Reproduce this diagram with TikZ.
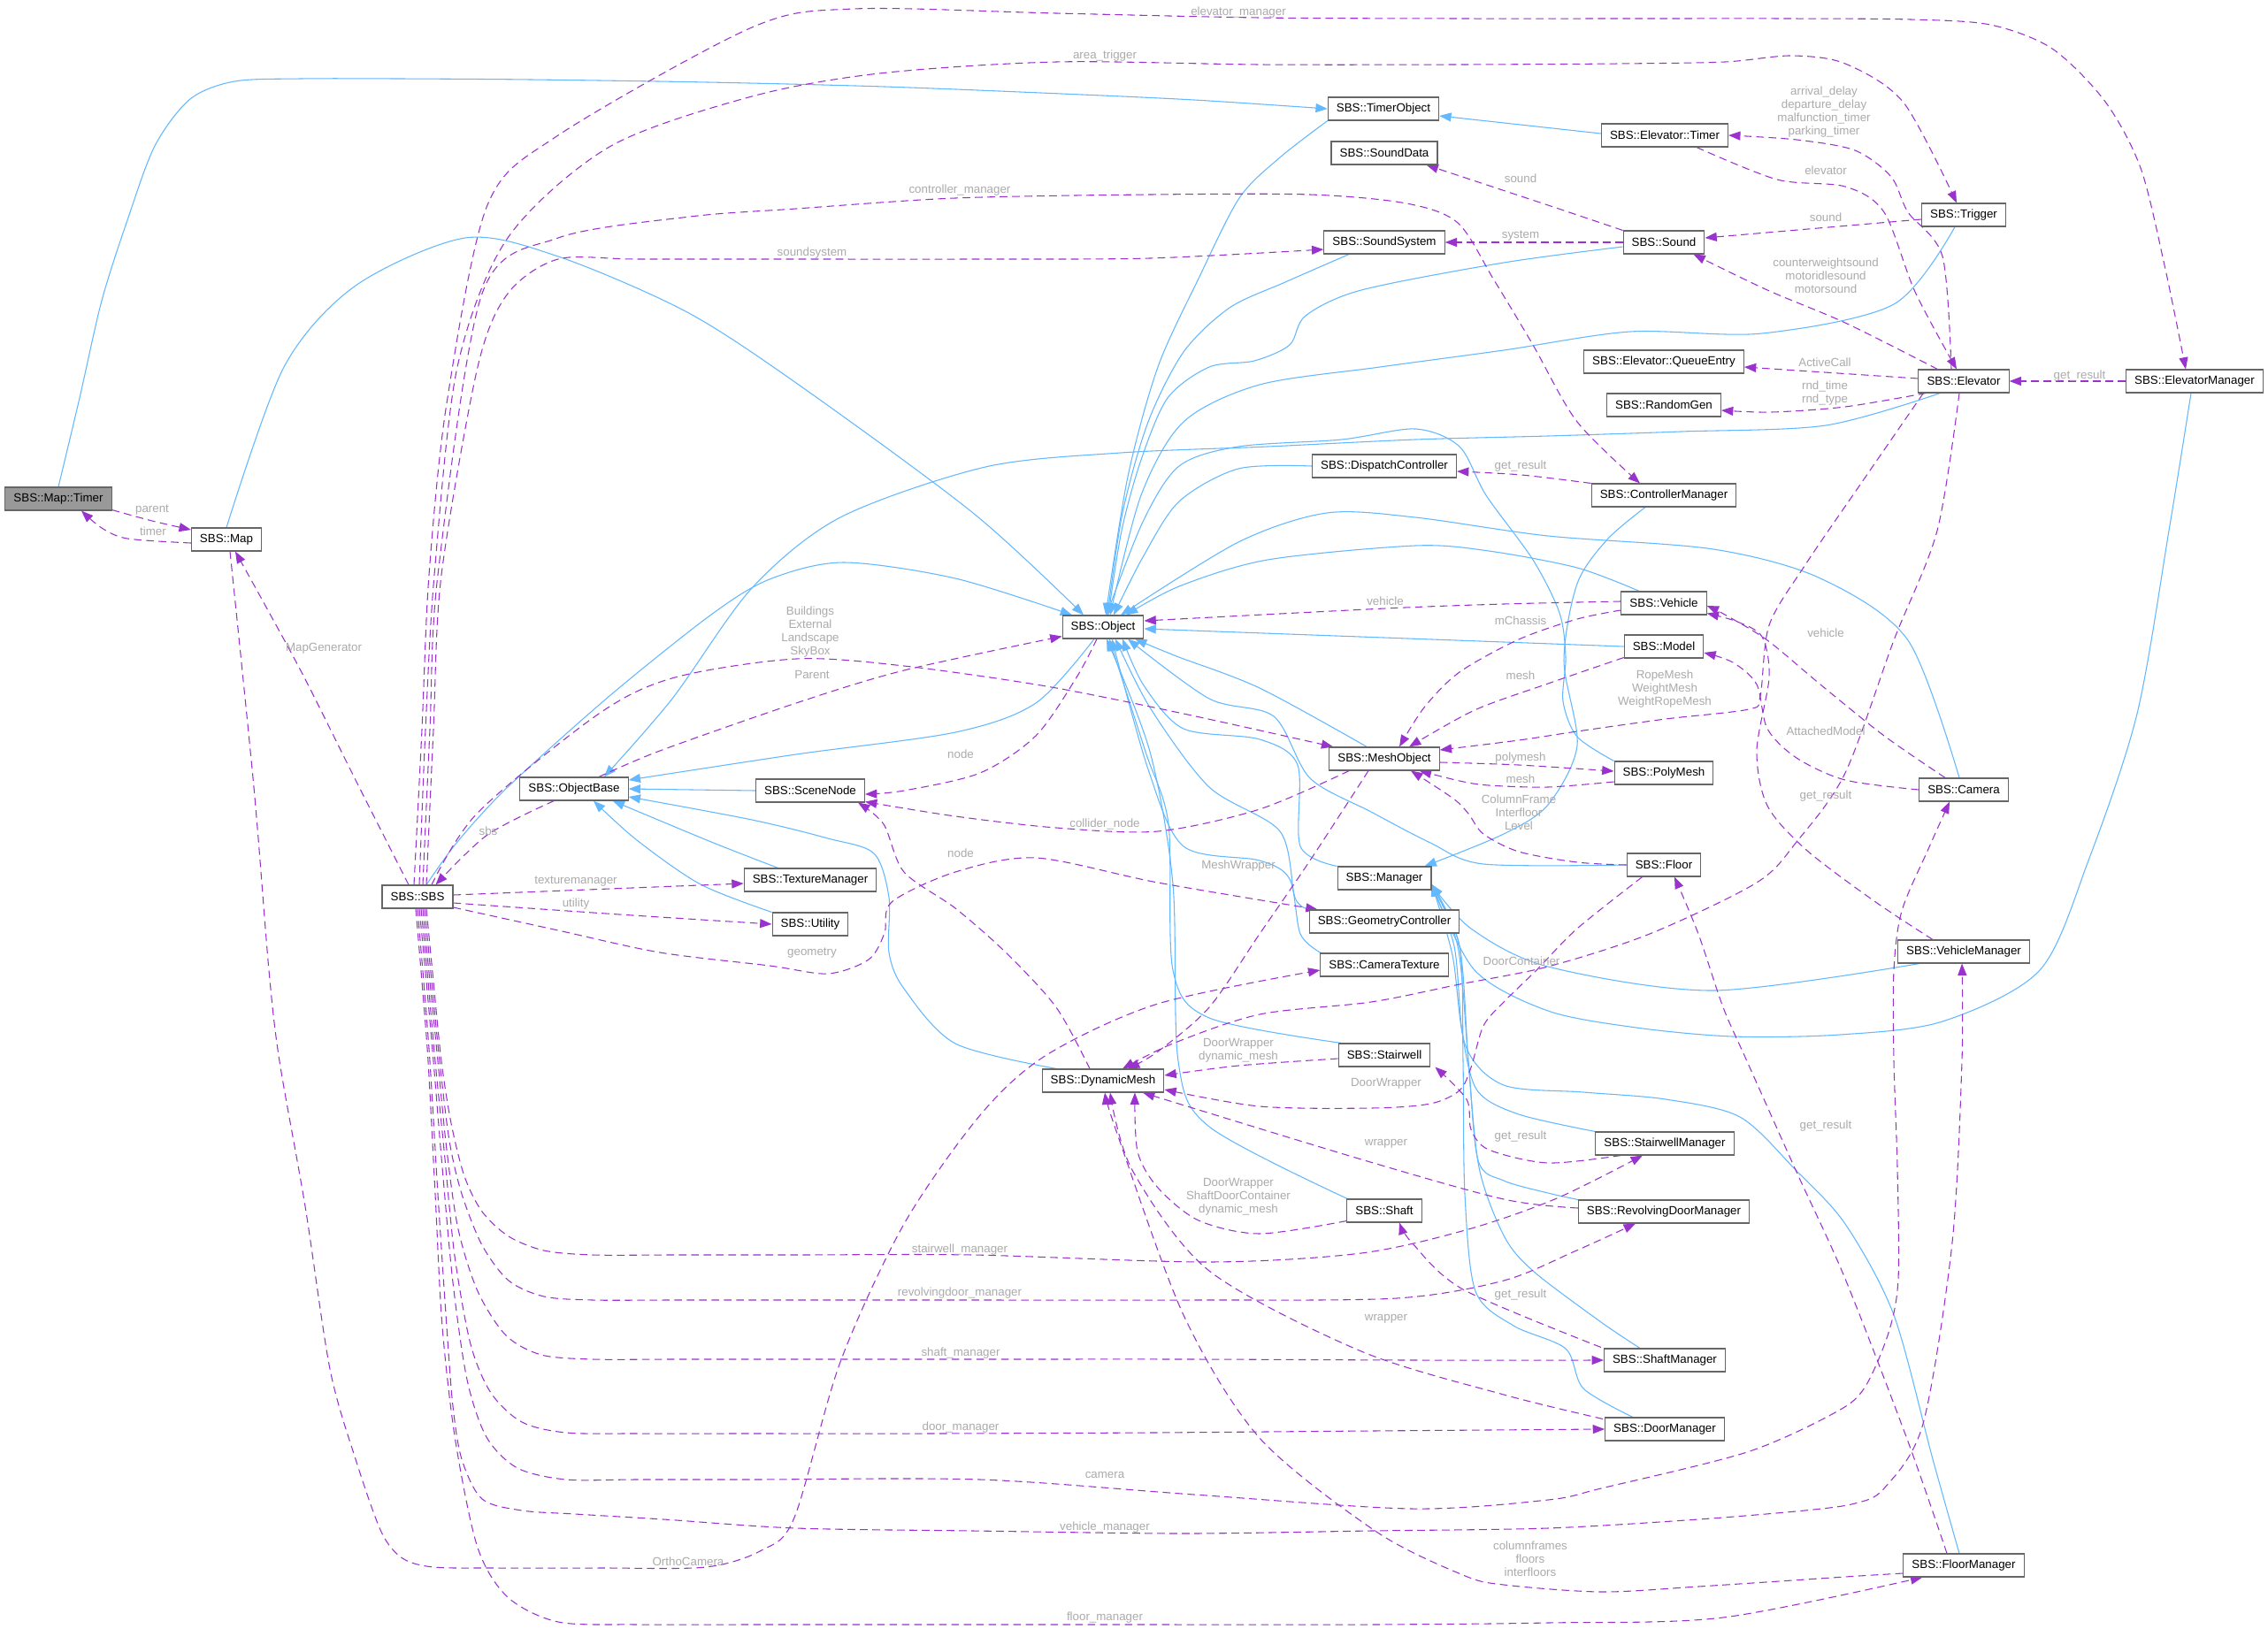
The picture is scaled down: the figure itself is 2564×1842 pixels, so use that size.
\documentclass[tikz,border=0pt]{standalone}
\usepackage{fontspec}
\setmainfont{Liberation Sans}
\usetikzlibrary{arrows.meta}
\definecolor{inhcol}{HTML}{63B8FF}
\definecolor{usecol}{HTML}{9A32CD}
\definecolor{labcol}{HTML}{ABABAB}
\definecolor{bordcol}{HTML}{666666}
\definecolor{focusfill}{HTML}{999999}
\pgfdeclarelayer{background}
\pgfsetlayers{background,main}
\begin{document}
\begin{tikzpicture}[x=0.75pt,y=-0.75pt,
  cls/.style={draw=bordcol,line width=0.8pt,fill=white,font=\fontsize{10}{12}\selectfont,inner xsep=7.2pt,inner ysep=0pt,minimum height=19.5pt},
  inh/.style={draw=inhcol,line width=0.8pt,-{Triangle[length=10pt,width=7.5pt]}},
  use/.style={draw=usecol,line width=0.8pt,dash pattern=on 6.5pt off 4pt,-{Triangle[length=10pt,width=7.5pt]}},
  elab/.style={text=labcol,font=\fontsize{10}{11.25}\selectfont,align=center,inner sep=0pt}]
\useasboundingbox (0,0) rectangle (2564,1842);

% ---------- nodes ----------
\node[cls,fill=focusfill] (mt) at (66,564) {SBS::Map::Timer};
\node[cls] (map) at (256,610) {SBS::Map};
\node[cls] (tobj) at (1564,123) {SBS::TimerObject};
\node[cls] (sdata) at (1565,173) {SBS::SoundData};
\node[cls] (ssys) at (1565,274) {SBS::SoundSystem};
\node[cls] (disp) at (1565,527) {SBS::DispatchController};
\node[cls] (etimer) at (1882,153) {SBS::Elevator::Timer};
\node[cls] (trig) at (2220,243) {SBS::Trigger};
\node[cls] (sound) at (1881,274) {SBS::Sound};
\node[cls] (qentry) at (1881,409) {SBS::Elevator::QueueEntry};
\node[cls] (rgen) at (1881,458) {SBS::RandomGen};
\node[cls] (elev) at (2220,431) {SBS::Elevator};
\node[cls] (emgr) at (2481,431) {SBS::ElevatorManager};
\node[cls] (cmgr) at (1881,560) {SBS::ControllerManager};
\node[cls] (obase) at (649,892) {SBS::ObjectBase};
\node[cls] (sbs) at (472,1014) {SBS::SBS};
\node[cls] (obj) at (1247,709) {SBS::Object};
\node[cls] (mesh) at (1565,858) {SBS::MeshObject};
\node[cls] (snode) at (916,894) {SBS::SceneNode};
\node[cls] (mgr) at (1565,993) {SBS::Manager};
\node[cls] (texm) at (916,995) {SBS::TextureManager};
\node[cls] (util) at (916,1045) {SBS::Utility};
\node[cls] (geo) at (1565,1042) {SBS::GeometryController};
\node[cls] (ctex) at (1565,1091) {SBS::CameraTexture};
\node[cls] (stair) at (1565,1193) {SBS::Stairwell};
\node[cls] (dmesh) at (1247,1222) {SBS::DynamicMesh};
\node[cls] (veh) at (1881,682) {SBS::Vehicle};
\node[cls] (model) at (1881,731) {SBS::Model};
\node[cls] (poly) at (1881,874) {SBS::PolyMesh};
\node[cls] (cam) at (2220,893) {SBS::Camera};
\node[cls] (floor) at (1881,978) {SBS::Floor};
\node[cls] (vmgr) at (2220,1076) {SBS::VehicleManager};
\node[cls] (shaft) at (1565,1369) {SBS::Shaft};
\node[cls] (smgr) at (1882,1293) {SBS::StairwellManager};
\node[cls] (rdmgr) at (1881,1370) {SBS::RevolvingDoorManager};
\node[cls] (shmgr) at (1882,1538) {SBS::ShaftManager};
\node[cls] (dmgr) at (1882,1616) {SBS::DoorManager};
\node[cls] (fmgr) at (2220,1770) {SBS::FloorManager};

\begin{pgfonlayer}{background}
\fill[white] (0,0) rectangle (2564,1842);
% ---------- inheritance (blue) ----------
\draw[inh] plot[smooth] coordinates {(mt.north) (90,450) (115,340) (144,249) (175,165) (215,112) (265,92) (340,89) (450,89) (600,90) (800,93) (1000,98) (1200,106) (1350,113) (tobj.west)};
\draw[inh] plot[smooth] coordinates {(map.north) (321,415) (402,323) (526,269) (631,290) (775,352) (900,433) (1100,580) ([xshift=-16.5pt]obj.north)};
\draw[inh] plot[smooth] coordinates {([xshift=7.5pt]sbs.north) (517,952) (574,890) (689,787) (804,695) (870,655) (953,636) (1080,654) ([xshift=-26.25pt]obj.north)};
\draw[inh] plot[smooth] coordinates {(tobj.south west) (1447,178) (1401,224) (1355,315) (1309,415) (1275,539) ([xshift=2.25pt]obj.north)};
\draw[inh] plot[smooth] coordinates {([xshift=-30pt]ssys.south) (1453,319) (1390,348) (1338,398) (1298,477) (1269,580) ([xshift=3.75pt]obj.north)};
\draw[inh] plot[smooth] coordinates {([yshift=-3.75pt]sound.west) (1700,297) (1539,328) (1476,357) (1458,390) (1418,408) (1367,415) (1320,450) (1290,520) (1268,600) ([xshift=4.5pt]obj.north)};
\draw[inh] plot[smooth] coordinates {([xshift=-7.5pt]trig.south) (2141,344) (1992,377) (1843,375) (1700,396) (1560,415) (1424,435) (1338,477) (1290,560) ([xshift=6pt]obj.north)};
\draw[inh] plot[smooth] coordinates {(disp.west) (1400,530) (1333,567) (1292,630) ([xshift=9pt]obj.north)};
\draw[inh] plot[smooth] coordinates {([xshift=15.75pt]veh.north west) (1783,642) (1683,623) (1600,617) (1433,633) (1333,663) ([xshift=19.5pt]obj.north)};
\draw[inh] plot[smooth] coordinates {([xshift=-3.75pt]cam.north) (2157,724) (2058,654) (1937,621) (1750,606) (1600,585) (1500,580) (1400,613) ([xshift=15pt]obj.north)};
\draw[inh] plot[smooth] coordinates {(poly.north west) (1783,833) (1767,793) (1770,743) (1763,693) (1733,633) (1680,560) (1650,505) (1600,485) (1517,497) (1400,505) (1333,527) (1292,590) ([xshift=3pt]obj.north)};
\draw[inh] (model.west) -- ([yshift=-1.5pt]obj.east);
\draw[inh] plot[smooth] coordinates {([xshift=32.25pt]mesh.north west) (1424,778) (1330,742) ([xshift=27pt]obj.south)};
\draw[inh] plot[smooth] coordinates {(mgr.north west) (1470,957) (1467,865) (1424,836) (1338,824) (1293,775) ([xshift=16.5pt]obj.south)};
\draw[inh] plot[smooth] coordinates {(floor.west) (1677,977) (1617,953) (1550,918) (1481,880) (1440,810) (1367,790) ([xshift=21pt]obj.south)};
\draw[inh] plot[smooth] coordinates {([xshift=0.75pt]geo.north west) (1464,1015) (1447,940) (1367,890) (1300,800) ([xshift=10.5pt]obj.south)};
\draw[inh] plot[smooth] coordinates {([xshift=0.75pt]ctex.north west) (1470,1056) (1458,994) (1424,973) (1338,957) (1298,870) ([xshift=7.5pt]obj.south)};
\draw[inh] plot[smooth] coordinates {([xshift=3pt]stair.north west) (1367,1151) (1326,1097) (1321,932) (1295,850) ([xshift=5.25pt]obj.south)};
\draw[inh] plot[smooth] coordinates {([xshift=0.75pt]shaft.north west) (1367,1274) (1332,1200) (1326,1000) (1300,850) ([xshift=3pt]obj.south)};
\draw[inh] plot[smooth] coordinates {([xshift=-7.5pt]obj.south) (1171,795) (1080,828) (900,853) ([yshift=7.5pt]obase.east)};
\draw[inh] (snode.west) -- (obase.east);
\draw[inh] plot[smooth] coordinates {([xshift=29.25pt]texm.north west) (804,952) ([xshift=-13.5pt]obase.south east)};
\draw[inh] plot[smooth] coordinates {(util.north west) (792,1000) (720,950) ([xshift=16.5pt]obase.south)};
\draw[inh] plot[smooth] coordinates {([xshift=12.75pt]dmesh.north west) (1080,1180) (1022,1118) (1005,1077) (1005,1015) (988,965) (936,948) (850,927) ([yshift=-6.75pt]obase.east)};
\draw[inh] plot[smooth] coordinates {([xshift=18.75pt]elev.south west) (2064,481) (1900,488) (1750,493) (1600,497) (1433,505) (1267,512) (1114,528) (950,585) (850,665) (760,790) ([xshift=25.5pt]obase.north)};
\draw[inh] ([yshift=1.5pt]etimer.west) -- ([yshift=-6pt]tobj.east);
\draw[inh] plot[smooth] coordinates {([xshift=-15.75pt]cmgr.south) (1817,610) (1783,660) (1768,747) (1783,843) (1750,910) (1700,943) ([xshift=-6pt]mgr.north east)};
\draw[inh] plot[smooth] coordinates {([xshift=18.75pt]vmgr.south west) (1937,1120) (1750,1093) (1663,1050) ([yshift=-5.25pt]mgr.east)};
\draw[inh] plot[smooth] coordinates {([xshift=-3pt]emgr.south) (2452,600) (2416,807) (2361,973) (2306,1097) (2196,1155) (2080,1170) (1959,1172) (1850,1162) (1750,1143) (1667,1097) ([yshift=-5.25pt]mgr.east)};
\draw[inh] plot[smooth] coordinates {([xshift=-3.75pt]fmgr.north) (2185,1650) (2141,1487) (2086,1384) (2030,1323) (1967,1263) (1883,1243) (1790,1235) (1700,1227) (1657,1183) (1642,1080) ([yshift=-5.25pt]mgr.east)};
\draw[inh] plot[smooth] coordinates {(smgr.north west) (1717,1260) (1670,1233) (1653,1167) (1644,1070) ([yshift=-5.25pt]mgr.east)};
\draw[inh] plot[smooth] coordinates {(rdmgr.north west) (1750,1349) (1700,1335) (1671,1312) (1660,1200) (1648,1070) ([yshift=-5.25pt]mgr.east)};
\draw[inh] plot[smooth] coordinates {([xshift=-21pt]shmgr.north) (1810,1495) (1733,1437) (1700,1397) (1672,1320) (1660,1200) (1650,1070) ([yshift=-5.25pt]mgr.east)};
\draw[inh] plot[smooth] coordinates {([xshift=-27pt]dmgr.north) (1790,1570) (1770,1525) (1711,1499) (1668,1460) (1656,1350) (1654,1200) (1650,1070) ([yshift=-5.25pt]mgr.east)};

% ---------- usage (purple dashed) ----------
\draw[use] plot[smooth] coordinates {([yshift=0.75pt]mt.south east) (172,589) ([yshift=8.25pt]map.west)};
\draw[use] plot[smooth] coordinates {([yshift=-3pt]map.west) (144,609) (115,597) ([xshift=19.5pt]mt.south)};
\draw[use] plot[smooth] coordinates {([xshift=-7.5pt]sbs.north) (402,882) (344,766) (299,683) ([xshift=7.5pt]map.south)};
\draw[use] plot[smooth] coordinates {([xshift=3pt]map.south) (287,890) (304,1097) (316,1200) (345,1364) (373,1548) (402,1650) (431,1732) (455,1762) (490,1772) (560,1773) (680,1773) (798,1772) (861,1753) (898,1716) (950,1540) (1022,1384) (1108,1261) (1183,1193) (1309,1135) ([yshift=-4.5pt]ctex.west)};
\draw[use] plot[smooth] coordinates {([xshift=29.25pt]obase.south west) (551,944) ([xshift=-15pt]sbs.north east)};
\draw[use] ([yshift=1.5pt]sbs.east) -- ([yshift=-3pt]texm.west);
\draw[use] plot[smooth] coordinates {([yshift=-5.25pt]sbs.east) (700,1034) (util.west)};
\draw[use] plot[smooth] coordinates {([yshift=-9pt]sbs.east) (631,1052) (746,1077) (870,1092) (936,1101) (982,1085) (1000,1055) (1008,1020) (1080,986) (1171,970) (1309,998) ([xshift=7.5pt]geo.north west)};
\draw[use] plot[smooth] coordinates {([xshift=-5.25pt]obj.south) (1217,766) (1171,832) (1108,874) (1022,894) ([yshift=-3pt]snode.east)};
\draw[use] plot[smooth] coordinates {([xshift=17.25pt]mesh.south west) (1424,915) (1309,940) (1194,936) (1080,923) ([yshift=0.75pt]snode.south east)};
\draw[use] plot[smooth] coordinates {([xshift=-11.25pt]dmesh.north) (1194,1139) (1137,1077) (1080,1027) (1022,986) (999,932) ([xshift=-6pt]snode.south east)};
\draw[use] plot[smooth] coordinates {([xshift=12pt]sbs.north) (540,919) (677,807) (763,766) (900,745) (1022,753) (1183,776) (1338,807) ([xshift=3.75pt]mesh.north west)};
\draw[use] plot[smooth] coordinates {([xshift=21pt]obase.north) (746,849) (900,795) (1022,758) ([yshift=2.25pt]obj.south west)};
\draw[use] plot[smooth] coordinates {([yshift=1.5pt]veh.west) (1700,683) (1566,688) ([yshift=5.25pt]obj.east)};
\draw[use] plot[smooth] coordinates {([yshift=-6pt]veh.west) (1783,700) (1717,723) (1650,760) (1610,800) ([xshift=12.75pt]mesh.north)};
\draw[use] plot[smooth] coordinates {([yshift=0.75pt]model.south west) (1750,773) (1667,803) ([xshift=21pt]mesh.north)};
\draw[use] plot[smooth] coordinates {([xshift=4.5pt]elev.south west) (2105,545) (2040,640) (2000,707) (1990,787) (1977,802) (1883,813) (1783,827) (1717,837) ([yshift=7.5pt]mesh.east)};
\draw[use] plot[smooth] coordinates {([yshift=-3pt]mesh.east) (1717,865) ([yshift=1.5pt]poly.west)};
\draw[use] plot[smooth] coordinates {([yshift=-7.5pt]poly.west) (1750,890) (1683,888) (1650,883) ([xshift=-17.25pt]mesh.south east)};
\draw[use] plot[smooth] coordinates {(floor.west) (1783,975) (1717,963) (1677,943) (1660,920) (1643,903) ([xshift=22.5pt]mesh.south)};
\draw[use] plot[smooth] coordinates {([xshift=-13.5pt]mesh.south) (1481,973) (1424,1056) (1367,1139) (1309,1189) ([xshift=21pt]dmesh.north)};
\draw[use] plot[smooth] coordinates {([xshift=-3.75pt]elev.south) (2190,600) (2141,724) (2086,874) (2031,952) (1986,998) (1865,1056) (1750,1093) (1650,1113) (1550,1133) (1424,1147) (1326,1180) ([xshift=16.5pt]dmesh.north)};
\draw[use] plot[smooth] coordinates {([xshift=13.5pt]floor.south west) (1783,1050) (1737,1097) (1700,1133) (1677,1160) (1663,1207) (1650,1233) (1617,1248) (1550,1253) (1424,1251) ([yshift=-7.5pt]dmesh.east)};
\draw[use] plot[smooth] coordinates {([yshift=-3pt]stair.west) (1400,1205) ([yshift=4.5pt]dmesh.east)};
\draw[use] plot[smooth] coordinates {([yshift=1.5pt]shaft.south west) (1424,1395) (1355,1380) (1309,1343) (1286,1302) ([xshift=27pt]dmesh.south)};
\draw[use] plot[smooth] coordinates {([yshift=3pt]rdmgr.west) (1700,1356) (1539,1311) ([xshift=33.75pt]dmesh.south)};
\draw[use] plot[smooth] coordinates {([xshift=-1.5pt,yshift=-1.5pt]dmgr.north west) (1700,1577) (1539,1528) (1367,1437) (1280,1323) ([xshift=6pt]dmesh.south)};
\draw[use] plot[smooth] coordinates {([yshift=-6.75pt]fmgr.west) (2086,1783) (1920,1794) (1810,1800) (1700,1792) (1654,1781) (1556,1732) (1424,1626) (1338,1487) (1263,1282) ([xshift=1.5pt]dmesh.south)};
\draw[use] plot[smooth] coordinates {([xshift=21.75pt]smgr.south west) (1750,1315) (1683,1300) (1663,1277) (1658,1243) ([xshift=3.75pt]stair.south east)};
\draw[use] plot[smooth] coordinates {([xshift=-2.25pt,yshift=0.75pt]shmgr.north west) (1654,1458) (1596,1405) ([xshift=12.75pt]shaft.south)};
\draw[use] plot[smooth] coordinates {([xshift=-14.25pt]fmgr.north) (2157,1630) (2086,1446) (2030,1323) (1975,1200) (1948,1139) (1920,1056) ([xshift=9pt]floor.south)};
\draw[use] (emgr.west) -- (elev.east);
\draw[use] plot[smooth] coordinates {(cmgr.north west) (1720,537) ([yshift=-4.5pt]disp.east)};
\draw[use] ([yshift=2.25pt]elev.west) -- ([yshift=-4.5pt]qentry.east);
\draw[use] plot[smooth] coordinates {([xshift=6.75pt]elev.south west) (2086,460) (2003,466) ([yshift=-4.5pt]rgen.east)};
\draw[use] plot[smooth] coordinates {([xshift=16.5pt]elev.north west) (2086,365) (1998,328) ([xshift=-9.75pt]sound.south east)};
\draw[use] ([yshift=-3.75pt]trig.west) -- ([yshift=3.75pt]sound.east);
\draw[use] (sound.west) -- (ssys.east);
\draw[use] plot[smooth] coordinates {(sound.north west) (1750,232) ([xshift=-9.75pt]sdata.south east)};
\draw[use] plot[smooth] coordinates {([xshift=-10.5pt]elev.north) (2196,290) (2157,240) (2138,200) (2097,170) (2031,158) (etimer.east)};
\draw[use] plot[smooth] coordinates {([xshift=27pt]etimer.south) (2009,203) (2086,211) (2130,240) (2165,330) ([xshift=-6pt]elev.north)};
\draw[use] plot[smooth] coordinates {([xshift=1.5pt]sbs.north) (481,825) (491,650) (517,415) (574,269) (689,166) (850,109) (994,83) (1194,70) (1424,73) (1650,73) (1830,72) (1950,70) (2025,63) (2086,72) (2152,116) ([xshift=-6pt]trig.north)};
\draw[use] plot[smooth] coordinates {([xshift=-3pt]sbs.north) (477,825) (485,650) (505,456) (551,232) (631,153) (850,31) (965,10) (1194,15) (1424,20) (1650,21) (1850,21) (2020,21) (2160,22) (2250,28) (2320,55) (2380,115) (2420,190) (2447,300) ([xshift=-7.5pt]emgr.north)};
\draw[use] plot[smooth] coordinates {([xshift=4.5pt]sbs.north) (486,825) (495,650) (545,332) (631,269) (780,245) (900,236) (1080,224) (1300,220) (1481,220) (1590,230) (1648,252) (1688,315) (1733,390) (1783,477) ([xshift=-20.25pt]cmgr.north)};
\draw[use] plot[smooth] coordinates {([xshift=7.5pt]sbs.north) (490,825) (499,650) (540,415) (574,332) (631,293) (720,293) (900,293) (1100,293) (1300,292) ([yshift=-6pt]ssys.west)};
\draw[use] plot[smooth] coordinates {([xshift=7.5pt]sbs.south) (490,1110) (499,1200) (510,1270) (525,1330) (545,1370) (575,1398) (615,1414) (670,1419) (760,1419) (900,1419) (1100,1419) (1367,1427) (1539,1417) (1660,1390) (1760,1355) ([xshift=-18.75pt]smgr.south)};
\draw[use] plot[smooth] coordinates {([xshift=6pt]sbs.south) (488,1110) (497,1200) (508,1290) (522,1350) (545,1408) (575,1448) (615,1466) (670,1470) (760,1470) (900,1470) (1100,1470) (1350,1470) (1579,1468) (1700,1448) (1780,1415) ([xshift=-24pt]rdmgr.south)};
\draw[use] plot[smooth] coordinates {([xshift=4.5pt]sbs.south) (486,1110) (495,1200) (505,1300) (518,1390) (540,1460) (572,1510) (612,1532) (670,1537) (760,1537) (900,1537) (1100,1537) (1350,1537) (1600,1538) (shmgr.west)};
\draw[use] plot[smooth] coordinates {([xshift=3pt]sbs.south) (484,1110) (492,1200) (502,1300) (514,1420) (532,1520) (555,1575) (590,1608) (640,1620) (720,1621) (850,1621) (1050,1621) (1300,1620) (1550,1618) (dmgr.west)};
\draw[use] plot[smooth] coordinates {([xshift=1.5pt]sbs.south) (482,1110) (490,1200) (500,1320) (512,1450) (528,1560) (550,1625) (585,1660) (640,1673) (720,1673) (850,1673) (1108,1673) (1350,1690) (1596,1706) (1750,1696) (1810,1683) (1975,1642) (2075,1597) (2108,1569) (2135,1507) (2146,1446) (2145,1320) (2141,1200) (2141,1097) (2150,1030) (2180,960) ([xshift=-12pt]cam.south)};
\draw[use] plot[smooth] coordinates {(sbs.south) (479,1110) (486,1200) (495,1350) (505,1500) (512,1590) (522,1650) (545,1695) (590,1708) (650,1712) (750,1718) (900,1728) (1100,1731) (1338,1734) (1550,1731) (1750,1728) (1920,1718) (2040,1708) (2097,1700) (2130,1683) (2174,1610) (2207,1405) (2218,1200) ([xshift=-1.5pt]vmgr.south)};
\draw[use] plot[smooth] coordinates {([xshift=-1.5pt]sbs.south) (477,1110) (484,1200) (492,1350) (500,1500) (515,1630) (540,1750) (574,1806) (631,1834) (720,1837) (850,1837) (1050,1837) (1300,1837) (1550,1837) (1750,1835) (1948,1829) ([xshift=16.5pt]fmgr.south west)};
\draw[use] plot[smooth] coordinates {([xshift=22.5pt]cam.north west) (2130,832) (2058,774) (1998,724) (1950,695) ([yshift=-2.25pt]veh.east)};
\draw[use] plot[smooth] coordinates {([xshift=-26.25pt]vmgr.north) (2119,1019) (2042,961) (1998,911) (1986,849) (2000,766) (1992,720) (1964,703) ([yshift=1.5pt]veh.south east)};
\draw[use] plot[smooth] coordinates {(cam.west) (2086,882) (2031,857) (1998,824) (1986,774) (1959,749) ([yshift=-5.25pt]model.east)};
\end{pgfonlayer}

% ---------- edge labels ----------
\node[elab] (l1) at (172,577) {parent};
\node[elab] (l2) at (173,601) {timer};
\node[elab] (l3) at (366,733) {MapGenerator};
\node[elab] (l4) at (552,940) {sbs};
\node[elab] (l5) at (651,997) {texturemanager};
\node[elab] (l6) at (651,1022) {utility};
\node[elab] (l7) at (918,1078) {geometry};
\node[elab] (l8) at (1086,853) {node};
\node[elab] (l9) at (1249,932) {collider\_node};
\node[elab] (l10) at (1086,965) {node};
\node[elab] (l11) at (916,715) {Buildings\\External\\Landscape\\SkyBox};
\node[elab] (l12) at (918,763) {Parent};
\node[elab] (l13) at (1566,680) {vehicle};
\node[elab] (l14) at (1719,702) {mChassis};
\node[elab] (l15) at (1719,764) {mesh};
\node[elab] (l16) at (1882,779) {RopeMesh\\WeightMesh\\WeightRopeMesh};
\node[elab] (l17) at (1719,857) {polymesh};
\node[elab] (l18) at (1719,881) {mesh};
\node[elab] (l19) at (1717,919) {ColumnFrame\\Interfloor\\Level};
\node[elab] (l20) at (1400,979) {MeshWrapper};
\node[elab] (l21) at (1720,1087) {DoorContainer};
\node[elab] (l22) at (1567,1225) {DoorWrapper};
\node[elab] (l23) at (1400,1188) {DoorWrapper\\dynamic\_mesh};
\node[elab] (l24) at (1400,1353) {DoorWrapper\\ShaftDoorContainer\\dynamic\_mesh};
\node[elab] (l25) at (1567,1293) {wrapper};
\node[elab] (l26) at (1567,1491) {wrapper};
\node[elab] (l27) at (1730,1763) {columnframes\\floors\\interfloors};
\node[elab] (l28) at (1719,1285) {get\_result};
\node[elab] (l29) at (1719,1464) {get\_result};
\node[elab] (l30) at (2064,1273) {get\_result};
\node[elab] (l31) at (2351,425) {get\_result};
\node[elab] (l32) at (1719,527) {get\_result};
\node[elab] (l33) at (2063,410) {ActiveCall};
\node[elab] (l34) at (2063,445) {rnd\_time\\rnd\_type};
\node[elab] (l35) at (2064,312) {counterweightsound\\motoridlesound\\motorsound};
\node[elab] (l36) at (2064,246) {sound};
\node[elab] (l37) at (1719,267) {system};
\node[elab] (l38) at (1719,202) {sound};
\node[elab] (l39) at (2062,127) {arrival\_delay\\departure\_delay\\malfunction\_timer\\parking\_timer};
\node[elab] (l40) at (2064,193) {elevator};
\node[elab] (l41) at (1249,63) {area\_trigger};
\node[elab] (l42) at (1400,14) {elevator\_manager};
\node[elab] (l43) at (1085,215) {controller\_manager};
\node[elab] (l44) at (918,286) {soundsystem};
\node[elab] (l45) at (1085,1413) {stairwell\_manager};
\node[elab] (l46) at (1085,1462) {revolvingdoor\_manager};
\node[elab] (l47) at (1086,1530) {shaft\_manager};
\node[elab] (l48) at (1086,1614) {door\_manager};
\node[elab] (l49) at (1249,1668) {camera};
\node[elab] (l50) at (1249,1727) {vehicle\_manager};
\node[elab] (l51) at (1249,1829) {floor\_manager};
\node[elab] (l52) at (778,1766) {OrthoCamera};
\node[elab] (l53) at (2064,716) {vehicle};
\node[elab] (l54) at (2064,827) {AttachedModel};
\node[elab] (l55) at (2064,900) {get\_result};
\end{tikzpicture}
\end{document}
